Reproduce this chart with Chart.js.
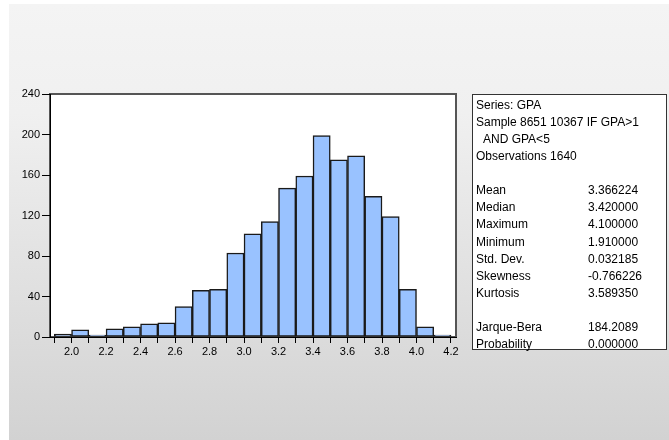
<!DOCTYPE html>
<html>
<head>
<meta charset="utf-8">
<script src="https://cdn.jsdelivr.net/npm/chart.js@4"></script>
<style>
  html, body { margin: 0; padding: 0; background: #fff; }
  #page { position: relative; width: 669px; height: 440px; overflow: hidden; background: #fff; }
  #bg { position: absolute; left: 9px; top: 4px; right: 0; bottom: 0;
        background: linear-gradient(to bottom, #f4f4f4 0%, #f0f0f0 25%, #d2d2d2 100%); }
  #chart { position: absolute; left: 0; top: 0; }
  #stats { position: absolute; left: 472px; top: 94px; width: 193px; height: 252px;
           background: #fff; border: 1px solid #333; padding-top: 2px;
           font: 12px "Liberation Sans", Arial, sans-serif; color: #000; box-sizing: content-box; }
  #stats div { line-height: 17.07px; height: 17.07px; padding-left: 3px; white-space: nowrap; }
  #stats .ind { padding-left: 10px; }
  #stats span.k { display: inline-block; width: 112px; }
</style>
</head>
<body>
<div id="page">
  <div id="bg"></div>
  <canvas id="chart" width="669" height="440"></canvas>
  <div id="stats"></div>
</div>
<script>
// histogram bins (edges) and counts
var binEdges = [1.9, 2.0, 2.1, 2.2, 2.3, 2.4, 2.5, 2.6, 2.7, 2.8, 2.9, 3.0,
                3.1, 3.2, 3.3, 3.4, 3.5, 3.6, 3.7, 3.8, 3.9, 4.0, 4.1, 4.2];
var counts = [3, 7, 2, 8, 10, 13, 14, 30, 46, 47, 83, 102,
              114, 147, 159, 199, 175, 179, 139, 119, 47, 10, 2];
var xLabelValues = [2.0, 2.2, 2.4, 2.6, 2.8, 3.0, 3.2, 3.4, 3.6, 3.8, 4.0, 4.2];
var yTicks = [0, 40, 80, 120, 160, 200, 240];

// summary box
var headerLines = ['Series: GPA', 'Sample 8651 10367 IF GPA>1', 'AND GPA<5', 'Observations 1640'];
var statLabels = ['Mean', 'Median', 'Maximum', 'Minimum', 'Std. Dev.', 'Skewness', 'Kurtosis'];
var statValues = ['3.366224', '3.420000', '4.100000', '1.910000', '0.032185', '-0.766226', '3.589350'];
var testLabels = ['Jarque-Bera', 'Probability'];
var testValues = ['184.2089', '0.000000'];

var box = document.getElementById('stats');
function addLine(html, cls) {
  var d = document.createElement('div');
  if (cls) d.className = cls;
  d.innerHTML = html;
  box.appendChild(d);
}
function esc(s) { return s.replace(/</g, '&lt;').replace(/>/g, '&gt;'); }
headerLines.forEach(function (t, i) { addLine(esc(t), i === 2 ? 'ind' : ''); });
addLine('&nbsp;');
statLabels.forEach(function (t, i) { addLine('<span class="k">' + t + '</span>' + statValues[i]); });
addLine('&nbsp;');
testLabels.forEach(function (t, i) { addLine('<span class="k">' + t + '</span>' + testValues[i]); });

var points = counts.map(function (c, i) {
  return { x: (binEdges[i] + binEdges[i + 1]) / 2, y: c };
});

// white plot background plus gray frame (left/bottom drawn black by the axes)
var framePlugin = {
  id: 'frame',
  beforeDraw: function (chart) {
    var a = chart.chartArea, ctx = chart.ctx;
    ctx.save();
    ctx.fillStyle = '#fff';
    ctx.fillRect(a.left, a.top, a.right - a.left, a.bottom - a.top);
    ctx.strokeStyle = '#555';
    ctx.lineWidth = 2;
    ctx.strokeRect(a.left, a.top, a.right - a.left, a.bottom - a.top);
    ctx.restore();
  }
};

var tickFont = { family: '"Liberation Sans", Arial, sans-serif', size: 11 };

var ctx = document.getElementById('chart').getContext('2d');
var gpaChart = new Chart(ctx, {
  type: 'bar',
  data: {
    datasets: [{
      label: 'GPA',
      data: points,
      backgroundColor: '#99c2ff',
      borderColor: '#1a1a1a',
      borderWidth: 1.5,
      borderSkipped: false,
      barPercentage: 1,
      categoryPercentage: 1
    }]
  },
  plugins: [framePlugin],
  options: {
    responsive: false,
    devicePixelRatio: 1,
    animation: false,
    layout: { padding: { left: 0, top: 94, right: 213, bottom: 80 } },
    plugins: { legend: { display: false }, tooltip: { enabled: false } },
    scales: {
      x: {
        type: 'linear',
        offset: false,
        min: 1.875,
        max: 4.229,
        afterBuildTicks: function (scale) {
          scale.ticks = binEdges.map(function (v) { return { value: v }; });
        },
        afterFit: function (scale) { scale.height = 23; },
        grid: { offset: false, drawOnChartArea: false, drawTicks: true, tickLength: 6, color: '#000' },
        border: { color: '#000', width: 1 },
        ticks: {
          autoSkip: false,
          maxRotation: 0,
          padding: 2,
          color: '#000',
          font: tickFont,
          callback: function (v) {
            var hit = xLabelValues.some(function (l) { return Math.abs(l - v) < 1e-6; });
            return hit ? v.toFixed(1) : '';
          }
        }
      },
      y: {
        min: 0,
        max: 240,
        afterBuildTicks: function (scale) {
          scale.ticks = yTicks.map(function (v) { return { value: v }; });
        },
        afterFit: function (scale) { scale.width = 50; },
        grid: { drawOnChartArea: false, drawTicks: true, tickLength: 8, color: '#000' },
        border: { color: '#000', width: 1 },
        ticks: { padding: 2, color: '#000', font: tickFont }
      }
    }
  }
});
</script>
</body>
</html>
